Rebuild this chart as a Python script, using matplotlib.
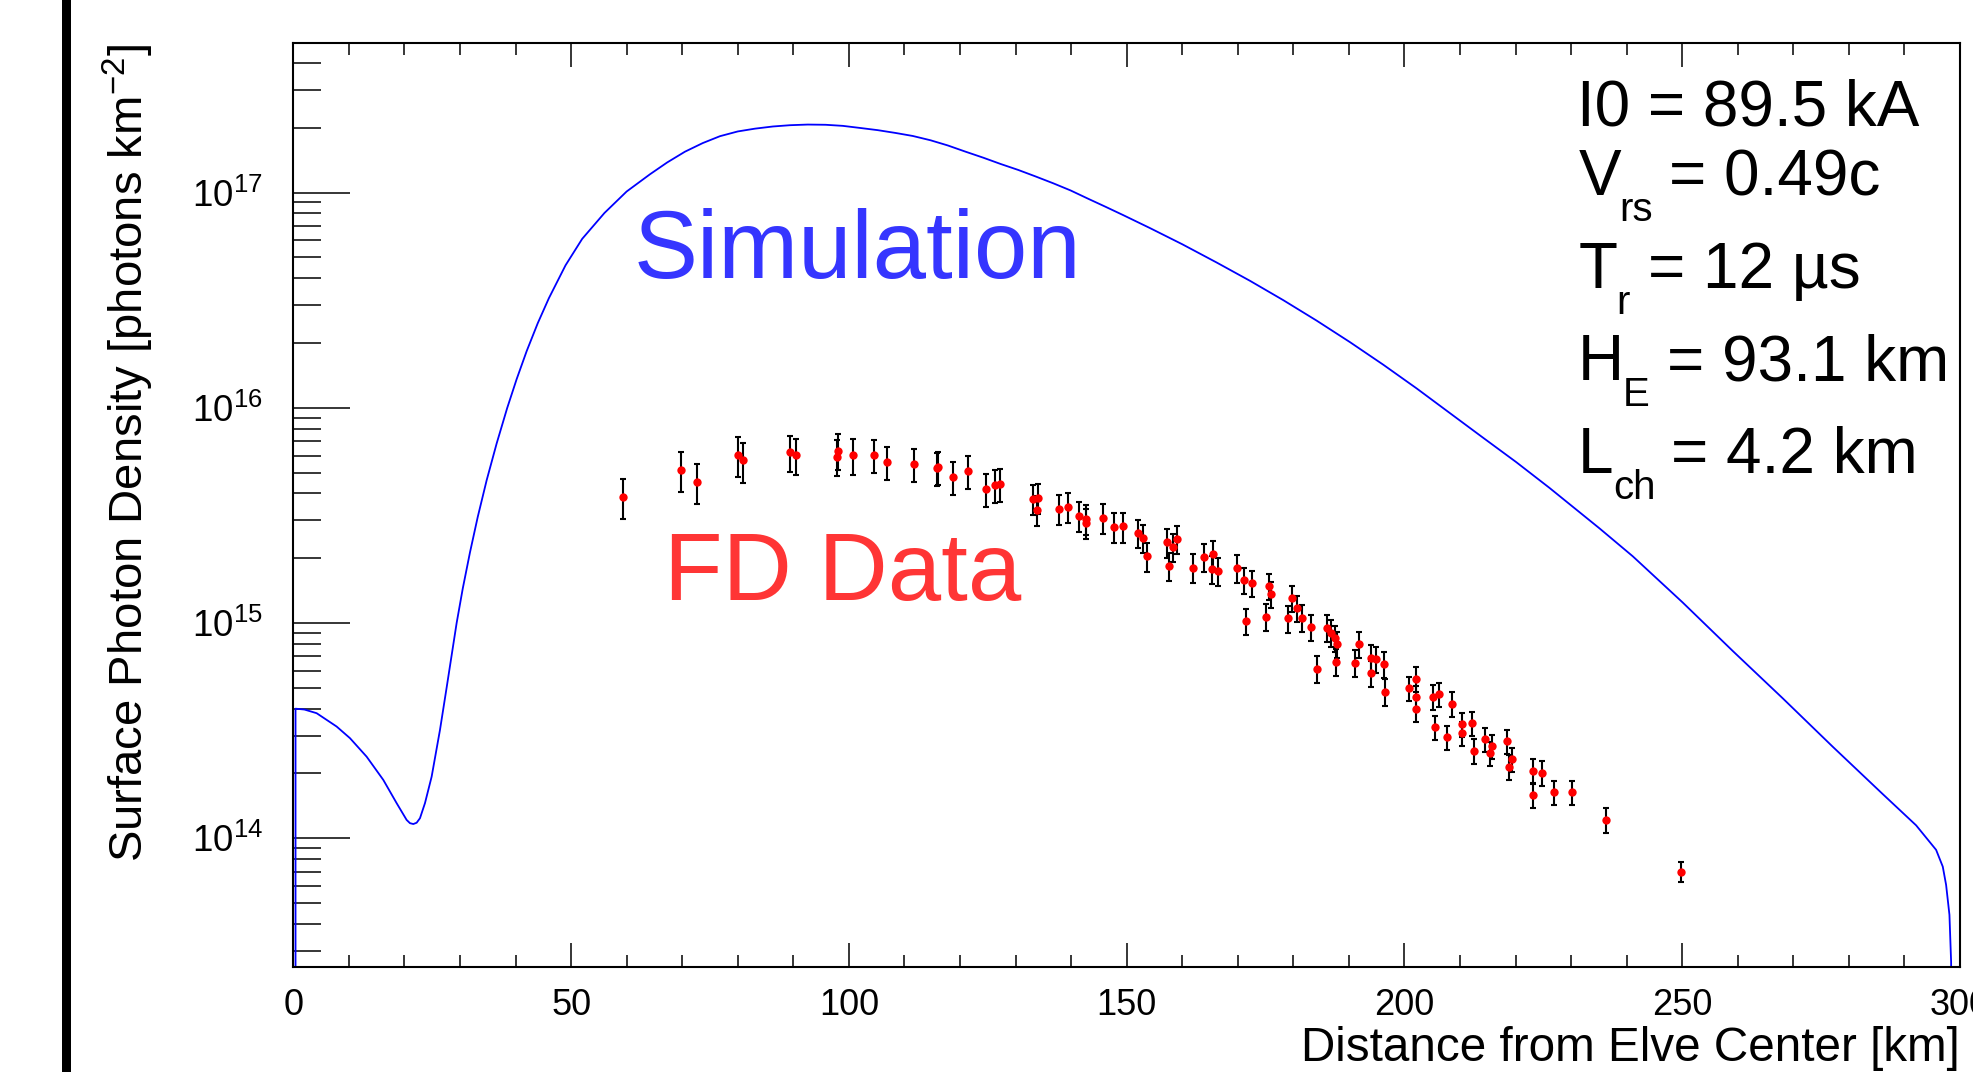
import numpy as np
import matplotlib
matplotlib.use("Agg")
import matplotlib.pyplot as plt
from matplotlib.ticker import MultipleLocator, LogLocator, FuncFormatter, NullFormatter
from matplotlib.patches import Rectangle

plt.rcParams['font.family'] = ['Liberation Sans', 'DejaVu Sans']
plt.rcParams['mathtext.fontset'] = 'custom'
plt.rcParams['mathtext.rm'] = 'Liberation Sans'

# ── data ─────────────────────────────────────────────────────────────────────

# simulated surface photon density (blue histogram): km vs log10(photons/km^2)
sim_km = [0.4, 0.4, 2.0, 4.2, 7.8, 10.2, 13.2, 16.2, 18.6, 20.4, 21.0, 21.6, 22.2,
          22.8, 23.7, 24.9, 26.4, 27.6, 28.5, 29.4, 30.5, 31.8, 33.2, 34.8, 36.6,
          38.5, 40.2, 42.0, 44.0, 46.0, 49.0, 52.0, 56.0, 60.0, 64.2, 67.3, 70.5,
          73.7, 76.8, 80.0, 83.1, 86.3, 89.4, 92.6, 95.8, 98.9, 102.1, 105.2,
          108.4, 111.5, 114.7, 117.8, 121.0, 124.2, 127.3, 130.5, 133.6, 136.8,
          139.9, 143.1, 146.2, 149.4, 154.2, 160.0, 166.2, 172.2, 178.2, 184.2,
          190.2, 196.2, 202.2, 208.2, 214.1, 220.1, 226.1, 235.1, 241.1, 250.1,
          259.1, 268.1, 277.1, 286.1, 292.1, 295.7, 296.3, 296.9, 297.5, 298.1,
          298.4, 298.5]
sim_log10 = [13.0, 14.602, 14.598, 14.581, 14.519, 14.465, 14.379, 14.271, 14.163,
             14.085, 14.070, 14.066, 14.072,
             14.093, 14.163, 14.286, 14.503, 14.700, 14.850, 15.000, 15.160, 15.328,
             15.493, 15.663, 15.834,
             15.999, 16.133, 16.263, 16.393, 16.509, 16.662, 16.785, 16.905, 17.005,
             17.085, 17.140, 17.190,
             17.230, 17.262, 17.284, 17.297, 17.307, 17.313, 17.316, 17.315, 17.310,
             17.300, 17.290,
             17.277, 17.263, 17.243, 17.219, 17.190, 17.162, 17.133, 17.105, 17.075,
             17.043,
             17.010, 16.971, 16.934, 16.895, 16.835, 16.760, 16.675, 16.590, 16.500,
             16.405,
             16.305, 16.200, 16.090, 15.975, 15.862, 15.748, 15.628, 15.440, 15.310,
             15.095,
             14.870, 14.650, 14.425, 14.205, 14.060, 13.946, 13.907, 13.868, 13.783,
             13.644,
             13.427, 13.0]

# FD data points (red markers), density in units of 1e15 photons/km^2
FD_UNIT = 1e15
fd_km = [59.4, 69.8, 72.6, 80.0, 80.9, 89.4, 90.5, 98.1, 97.9, 100.8,
         104.6, 106.8, 111.7, 115.8, 116.1, 118.8, 121.5, 124.7, 126.3, 127.2,
         133.2, 134.0, 133.8, 137.8, 139.4, 141.4, 142.6, 142.6, 145.8, 147.7,
         149.4, 152.1, 153.0, 153.6, 157.2, 157.6, 158.4, 159.0, 162.0, 163.9,
         165.6, 165.3, 166.5, 169.8, 171.1, 171.4, 172.6, 175.0, 175.6, 175.9,
         179.1, 179.7, 180.7, 181.6, 183.1, 184.3, 186.0, 186.7, 187.5, 187.8,
         187.6, 191.1, 191.8, 193.9, 193.9, 194.8, 196.3, 196.5, 200.8, 202.1,
         202.1, 202.0, 205.2, 206.2, 205.5, 207.6, 208.6, 210.3, 210.3, 212.2,
         212.5, 214.5, 215.4, 215.7, 218.4, 218.8, 219.4, 223.1, 223.1, 224.7,
         227.0, 230.2, 236.2, 249.8]
fd_density = [3.85, 5.14, 4.53, 6.04, 5.69, 6.22, 6.04, 6.32, 5.93, 6.04,
              6.04, 5.62, 5.47, 5.24, 5.33, 4.76, 5.06, 4.19, 4.39, 4.43,
              3.78, 3.81, 3.36, 3.39, 3.46, 3.15, 3.05, 2.93, 3.08, 2.79,
              2.81, 2.63, 2.49, 2.04, 2.37, 1.84, 2.26, 2.46, 1.81, 2.02,
              2.09, 1.78, 1.75, 1.80, 1.58, 1.02, 1.53, 1.07, 1.48, 1.36,
              1.05, 1.31, 1.17, 1.06, 0.96, 0.614, 0.953, 0.902, 0.849, 0.796,
              0.662, 0.655, 0.796, 0.690, 0.585, 0.679, 0.646, 0.480, 0.498, 0.550,
              0.452, 0.400, 0.455, 0.467, 0.328, 0.294, 0.421, 0.339, 0.308, 0.342,
              0.255, 0.289, 0.248, 0.267, 0.283, 0.215, 0.233, 0.206, 0.159, 0.202,
              0.164, 0.164, 0.122, 0.070]
# relative size of the error bars
fd_rel_err = [0.21, 0.21, 0.21, 0.21, 0.21, 0.19, 0.19, 0.19, 0.19, 0.19,
              0.175, 0.175, 0.175, 0.175, 0.175, 0.175, 0.175, 0.175, 0.175, 0.175,
              0.16, 0.16, 0.16, 0.16, 0.16, 0.16, 0.16, 0.16, 0.16, 0.16,
              0.16, 0.15, 0.15, 0.15, 0.15, 0.15, 0.15, 0.15, 0.15, 0.15,
              0.15, 0.15, 0.15, 0.15, 0.14, 0.14, 0.14, 0.14, 0.14, 0.14,
              0.14, 0.14, 0.14, 0.14, 0.14, 0.14, 0.14, 0.14, 0.14, 0.14,
              0.14, 0.14, 0.14, 0.14, 0.14, 0.14, 0.14, 0.14, 0.13, 0.13,
              0.13, 0.13, 0.13, 0.13, 0.13, 0.13, 0.13, 0.13, 0.13, 0.13,
              0.13, 0.13, 0.13, 0.13, 0.13, 0.13, 0.13, 0.13, 0.13, 0.13,
              0.13, 0.13, 0.13, 0.11]

# fit parameters shown top right
param_symbols = ["I0 = 89.5 kA", "V", "T", "H", "L"]
param_subs = ["", "rs", "r", "E", "ch"]
param_values = ["", "= 0.49c", "= 12 \u00b5s", "= 93.1 km", "= 4.2 km"]

# ── figure ───────────────────────────────────────────────────────────────────

W, H = 1973, 1072


def px(x, y):
    """pixel position (from top left) -> figure fraction"""
    return x / W, 1 - y / H


fig = plt.figure(figsize=(W / 100, H / 100), dpi=100)
ax = fig.add_axes([293.3 / W, 1 - 966.7 / H, 1666.7 / W, 924 / H])
ax.set_yscale('log')
ax.set_xlim(0, 300)
ax.set_ylim(2.53e13, 4.97e17)

sim_density = np.power(10.0, sim_log10)
ax.plot(sim_km, sim_density, color='#0000ff', lw=1.3, zorder=2)

fd_km_a = np.array(fd_km)
fd_y = np.array(fd_density) * FD_UNIT
fd_err = fd_y * np.array(fd_rel_err)
ax.errorbar(fd_km_a, fd_y, yerr=fd_err, fmt='none', ecolor='black',
            elinewidth=1.5, capsize=2.0, capthick=1.5, zorder=3)
ax.plot(fd_km_a, fd_y, 'o', color='#ff0000', ms=6, mew=0, zorder=4)

# ROOT-like axes
for sp in ax.spines.values():
    sp.set_linewidth(1.5)
ax.xaxis.set_major_locator(MultipleLocator(50))
ax.xaxis.set_minor_locator(MultipleLocator(10))
ax.yaxis.set_major_locator(LogLocator(base=10, numticks=20))
ax.yaxis.set_minor_locator(LogLocator(base=10, subs=np.arange(2, 10), numticks=20))
ax.yaxis.set_major_formatter(FuncFormatter(
    lambda v, p: r'$\mathregular{10^{%d}}$' % round(np.log10(v))))
ax.yaxis.set_minor_formatter(NullFormatter())

ax.tick_params(axis='x', which='major', direction='in', length=17, width=1.1,
               top=True, bottom=True, labelsize=26, pad=15)
ax.tick_params(axis='x', which='minor', direction='in', length=8.6, width=1.1,
               top=True, bottom=True)
ax.tick_params(axis='y', which='major', direction='in', length=41, width=1.1,
               left=True, right=False, labelsize=26.5, pad=22)
ax.tick_params(axis='y', which='minor', direction='in', length=20, width=1.1,
               left=True, right=False)

# axis titles (ROOT puts them at the far end of the axis)
fig.text(*px(1960, 1061), "Distance from Elve Center [km]", fontsize=34.3,
         ha='right', va='baseline')
fig.text(*px(143, 44), r"Surface Photon Density [photons km$^{\mathregular{-2}}$]",
         fontsize=34, rotation=90, rotation_mode='anchor', ha='right', va='baseline')

# labels inside the frame
fig.text(*px(633.5, 278), "Simulation", fontsize=69, color='#3535ff', va='baseline')
fig.text(*px(664, 600), "FD Data", fontsize=69, color='#ff3535', va='baseline')

sym_x = [1577, 1579, 1579, 1578, 1578]
base_y = [125, 195, 288.3, 380, 473.3]
sub_x = [0, 1619, 1616, 1623, 1613]
eq_x = [0, 1669, 1648, 1667, 1671]
for i in range(len(param_symbols)):
    fig.text(*px(sym_x[i], base_y[i]), param_symbols[i], fontsize=46, va='baseline')
    if param_subs[i]:
        fig.text(*px(sub_x[i], base_y[i] + 26), param_subs[i], fontsize=29,
                 va='baseline')
    if param_values[i]:
        fig.text(*px(eq_x[i], base_y[i]), param_values[i], fontsize=46,
                 va='baseline')

# thick black bar at the left edge of the canvas
fig.add_artist(Rectangle((62.3 / W, 0), 8.4 / W, 1, transform=fig.transFigure,
                         facecolor='black', edgecolor='none'))

fig.savefig("out.png", dpi=100)
